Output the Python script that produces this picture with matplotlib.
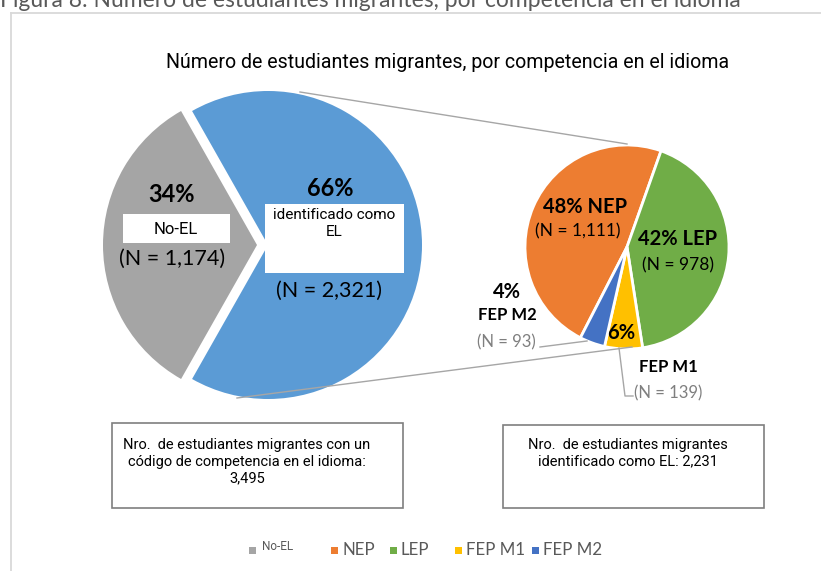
import matplotlib
matplotlib.use('Agg')
import matplotlib.pyplot as plt
from matplotlib.patches import Rectangle

W, H = 821, 571

# ---- data ----
main_labels = ['No-EL', 'identificado como\nEL']
main_values = [1174, 2321]
main_pct = ['34%', '66%']
sub_labels = ['NEP', 'LEP', 'FEP M1', 'FEP M2']
sub_values = [1111, 978, 139, 93]
sub_pct = ['48%', '42%', '6%', '4%']
legend_labels = ['No-EL', 'NEP', 'LEP', 'FEP M1', 'FEP M2']
total_text = '3,495'
el_text = '2,231'

colors_main = ['#A5A5A5', '#5B9BD5']
colors_sub = ['#ED7D31', '#70AD47', '#FFC000', '#4472C4']
legend_colors = ['#A5A5A5', '#ED7D31', '#70AD47', '#FFC000', '#4472C4']

NARROW = ['Roboto', 'DejaVu Sans']
CAL = ['Lato', 'DejaVu Sans']
GRAYLINE = '#A6A6A6'

fig = plt.figure(figsize=(W / 100, H / 100), dpi=100)
ax = fig.add_axes([0, 0, 1, 1])


def Y(y):
    return H - y


# ---- left pie ----
r1 = 154
c1 = (268, Y(245))
frac_gray = main_values[0] / sum(main_values)
start1 = 180 - frac_gray * 360 / 2
ax.pie(main_values, colors=colors_main, center=c1, radius=r1,
       startangle=start1, explode=[11, 0],
       wedgeprops=dict(linewidth=0))

# ---- right pie ----
r2 = 102
c2 = (627, Y(247))
frac_nep = sub_values[0] / sum(sub_values)
start2 = 70.5 + frac_nep * 360
ax.pie(sub_values, colors=colors_sub, center=c2, radius=r2,
       startangle=start2, counterclock=False,
       wedgeprops=dict(edgecolor='white', linewidth=2))

ax.set_xlim(0, W)
ax.set_ylim(0, H)
ax.set_aspect('auto')
ax.axis('off')

# ---- chart area border ----
ax.plot([11, 11], [Y(13), Y(H + 5)], color='#D9D9D9', lw=1.3, zorder=1)
ax.plot([11, W + 5], [Y(13), Y(13)], color='#D9D9D9', lw=1.3, zorder=1)

# ---- caption & title ----
ax.text(0, Y(7), 'Figura 8: Número de estudiantes migrantes, por competencia en el idioma',
        family=CAL, fontsize=16.5, color='#595959', ha='left', va='baseline')
ax.text(448, Y(68), 'Número de estudiantes migrantes, por competencia en el idioma',
        family=NARROW, fontsize=14.1, color='#000000', ha='center', va='baseline')

# ---- connector lines ----
ax.plot([300, 627], [Y(92), Y(144)], color=GRAYLINE, lw=1, zorder=3)
ax.plot([237, 632], [Y(398), Y(347)], color=GRAYLINE, lw=1, zorder=3)

# ---- left pie labels ----
ax.text(172, Y(195), main_pct[0], family=CAL, fontweight='bold', fontsize=17,
        ha='center', va='center', color='#000000')
ax.add_patch(Rectangle((123, Y(243)), 107, 29, fc='white', ec='none', zorder=4))
ax.text(176, Y(229), main_labels[0], family=NARROW, fontsize=12,
        ha='center', va='center', color='#000000', zorder=5)
ax.text(172, Y(259), f'(N = {main_values[0]:,})', family=CAL, fontsize=15.5,
        ha='center', va='center', color='#000000')

ax.text(330, Y(189), main_pct[1], family=CAL, fontweight='bold', fontsize=17,
        ha='center', va='center', color='#000000')
ax.add_patch(Rectangle((265, Y(273)), 139, 69, fc='white', ec='none', zorder=4))
ax.text(334, Y(208), main_labels[1], family=NARROW, fontsize=11,
        ha='center', va='top', color='#000000', zorder=5, linespacing=1.3)
ax.text(329, Y(291), f'(N = {main_values[1]:,})', family=CAL, fontsize=15.5,
        ha='center', va='center', color='#000000')

# ---- right pie labels ----
ax.text(585, Y(207), f'{sub_pct[0]} {sub_labels[0]}', family=CAL, fontweight='bold',
        fontsize=14.5, ha='center', va='center', color='#000000')
ax.text(578, Y(231), f'(N = {sub_values[0]:,})', family=CAL, fontsize=12.5,
        ha='center', va='center', color='#000000')
ax.text(678, Y(239), f'{sub_pct[1]} {sub_labels[1]}', family=CAL, fontweight='bold',
        fontsize=14.5, ha='center', va='center', color='#000000')
ax.text(678, Y(265), f'(N = {sub_values[1]:,})', family=CAL, fontsize=12.5,
        ha='center', va='center', color='#000000')

ax.text(621, Y(333), sub_pct[2], family=CAL, fontweight='bold',
        fontsize=14.5, ha='center', va='center', color='#000000')
ax.text(668, Y(367), sub_labels[2], family=CAL, fontweight='bold',
        fontsize=12, ha='center', va='center', color='#000000')
ax.text(668, Y(393), f'(N = {sub_values[2]:,})', family=CAL, fontsize=12,
        ha='center', va='center', color='#7F7F7F')

ax.text(507, Y(292), sub_pct[3], family=CAL, fontweight='bold',
        fontsize=14.5, ha='center', va='center', color='#000000')
ax.text(507, Y(315), sub_labels[3], family=CAL, fontweight='bold',
        fontsize=12, ha='center', va='center', color='#000000')
ax.text(506, Y(342), f'(N = {sub_values[3]:,})', family=CAL, fontsize=12,
        ha='center', va='center', color='#7F7F7F')

# leader lines
ax.plot([540, 587], [Y(347), Y(341)], color=GRAYLINE, lw=1, zorder=3)
ax.plot([619, 625, 633], [Y(348), Y(396), Y(396)], color=GRAYLINE, lw=1, zorder=3)

# ---- bottom boxes ----
ax.add_patch(Rectangle((112, Y(508)), 291, 85, fc='white', ec='#7F7F7F', lw=1.2, zorder=4))
ax.text(247, Y(462),
        'Nro.  de estudiantes migrantes con un\ncódigo de competencia en el idioma:\n' + total_text,
        family=NARROW, fontsize=10.5, ha='center', va='center', multialignment='center',
        linespacing=1.25, color='#000000', zorder=5)

ax.add_patch(Rectangle((503, Y(508)), 261, 83, fc='white', ec='#7F7F7F', lw=1.2, zorder=4))
ax.text(628, Y(453),
        'Nro.  de estudiantes migrantes\nidentificado como EL: ' + el_text,
        family=NARROW, fontsize=10.5, ha='center', va='center', multialignment='center',
        linespacing=1.25, color='#000000', zorder=5)

# ---- legend (manual) ----
leg_marker_x = [252, 334, 393, 458, 535]
for i, (lab, col) in enumerate(zip(legend_labels, legend_colors)):
    mx = leg_marker_x[i]
    ax.add_patch(Rectangle((mx - 3.5, Y(553.5)), 7, 7, fc=col, ec='none', zorder=5))
    if i == 0:
        ax.text(mx + 10, Y(546), lab, family=NARROW, fontsize=8.5, color='#595959',
                ha='left', va='center')
    else:
        ax.text(mx + 8, Y(550), lab, family=CAL, fontsize=12.2, color='#595959',
                ha='left', va='center')

fig.savefig('out.png', dpi=100)
